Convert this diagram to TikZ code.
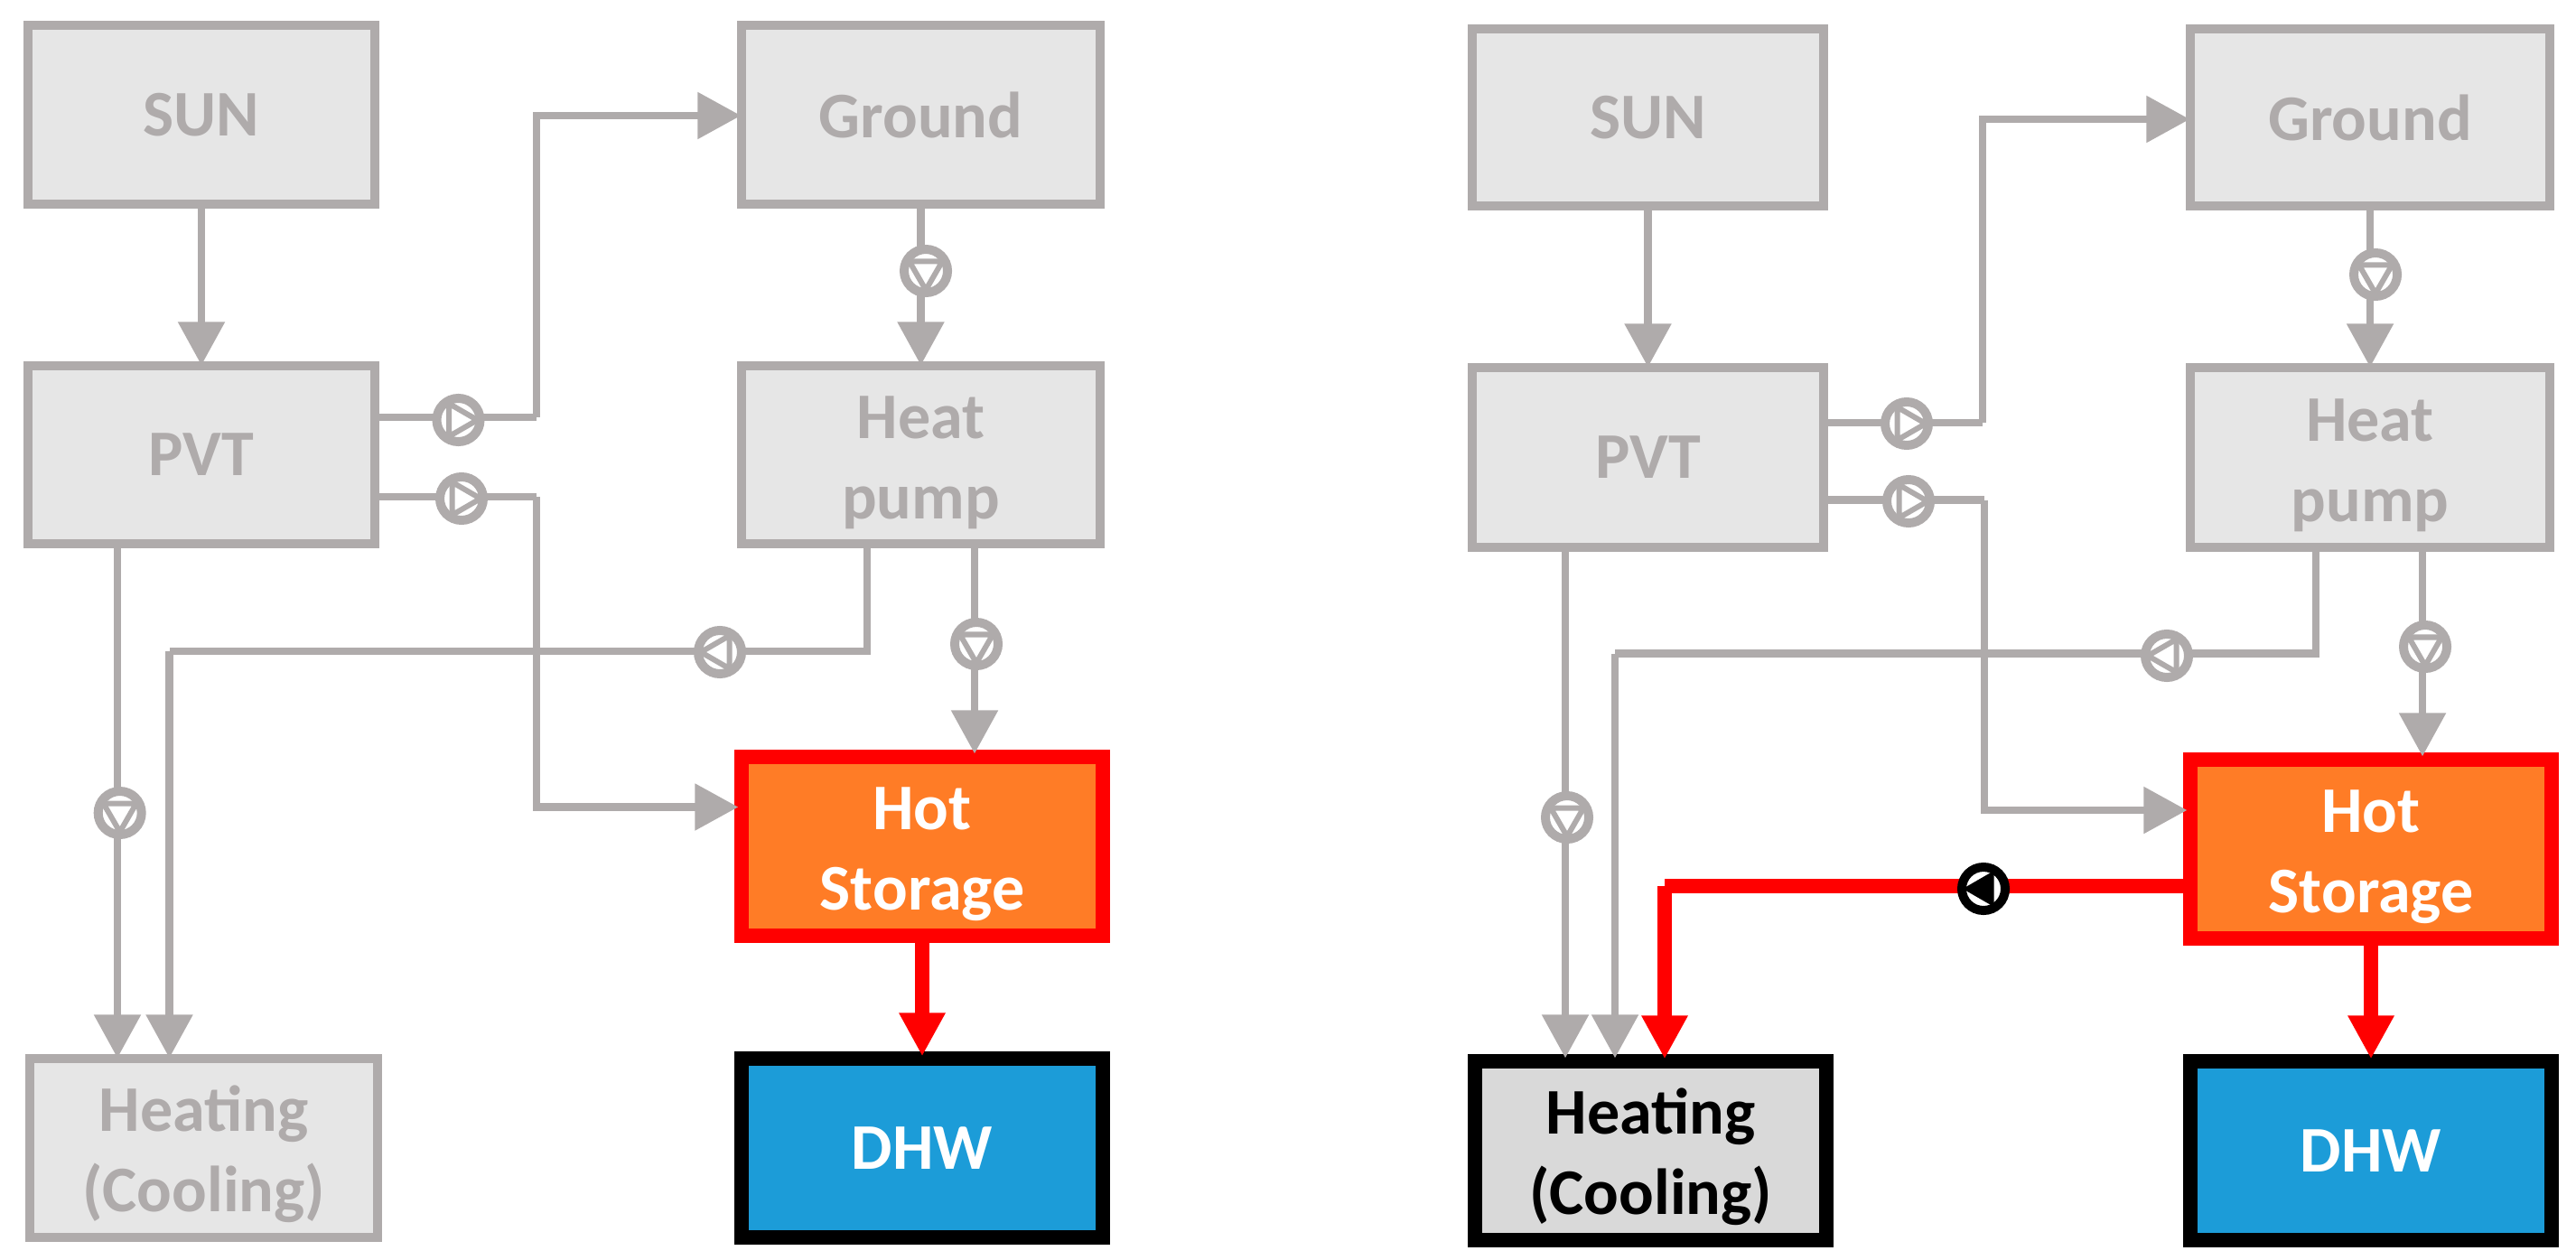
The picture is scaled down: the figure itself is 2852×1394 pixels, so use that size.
\documentclass[tikz,border=0pt]{standalone}
\usepackage{fontspec}
\setmainfont{Carlito}
\usetikzlibrary{arrows.meta}
\definecolor{gr}{HTML}{AFABAB}
\definecolor{lg}{HTML}{E6E6E6}
\definecolor{mg}{HTML}{D9D9D9}
\definecolor{og}{HTML}{FF7C26}
\definecolor{bl}{HTML}{1C9CD8}
\definecolor{rd}{HTML}{FF0000}
\newcommand{\kick}{\rule{0pt}{18.2pt}}
\tikzset{
  boxbase/.style={rectangle,inner sep=0pt,align=center,font=\fontsize{20.5}{25.3}\selectfont\bfseries},
  graybox/.style={boxbase,draw=gr,fill=lg,text=gr,line width=0.10cm},
  hotbox/.style={boxbase,draw=rd,fill=og,text=white,line width=0.16cm},
  dhwbox/.style={boxbase,draw=black,fill=bl,text=white,line width=0.16cm},
  loadbox/.style={boxbase,draw=black,fill=mg,text=black,line width=0.16cm},
  conn/.style={draw=gr,line width=0.085cm,line join=miter},
  connarrow/.style={conn,-{Triangle[length=0.48cm,width=0.50cm]},shorten >=-0.04cm},
  redconn/.style={draw=rd,line width=0.155cm,line join=miter},
  redarrow/.style={redconn,-{Triangle[length=0.48cm,width=0.48cm]},shorten >=-0.05cm},
  pumpg/.style={circle,draw=gr,fill=white,line width=0.10cm,minimum size=0.48cm,inner sep=0pt},
  pumpk/.style={circle,draw=black,fill=white,line width=0.10cm,minimum size=0.48cm,inner sep=0pt},
  triang/.style={draw=gr,fill=white,line width=0.06cm,line join=miter},
  triank/.style={draw=black,fill=black,line width=0.02cm,line join=miter}
}
% style, triangle style, name, position, direction
\newcommand{\pumpsym}[5]{%
  \node[#1] (#3) at (#4) {};
  \path[#2] (#3.center) +(#5:0.21cm) -- +(#5+120:0.21cm) -- +(#5-120:0.21cm) -- cycle;
}
\begin{document}
\begin{tikzpicture}[x=0.01cm,y=-0.01cm]
\useasboundingbox (0,0) rectangle (2852,1394);
% ---- left diagram: boxes
\node[graybox,minimum width=3.83cm,minimum height=1.97cm] (sun) at (223,127) {SUN};
\node[graybox,minimum width=3.96cm,minimum height=1.97cm] (ground) at (1019.5,127) {Ground};
\node[graybox,minimum width=3.83cm,minimum height=1.96cm] (pvt) at (223,503.5) {PVT};
\node[graybox,minimum width=3.96cm,minimum height=1.96cm] (hp) at (1019.5,503.5) {\kick Heat\\pump};
\node[graybox,minimum width=3.84cm,minimum height=1.97cm] (heat) at (225.5,1271) {\kick Heating\\(Cooling)};
\node[hotbox,minimum width=3.99cm,minimum height=1.97cm] (hot) at (1021,937) {\kick Hot\\Storage};
\node[dhwbox,minimum width=3.99cm,minimum height=1.97cm] (dhw) at (1021,1271) {DHW};
% ---- left diagram: bend points
\coordinate (c1) at (594,462); \coordinate (c2) at (594,128);
\coordinate (d1) at (594,550); \coordinate (d2) at (594,893.5);
\coordinate (e1) at (960,721); \coordinate (e2) at (187.5,721);
\coordinate (f1) at (1079,713); \coordinate (g1) at (130,900);
% ---- left diagram: connectors
\draw[connarrow] (sun.south) -- (pvt.north);
\draw[conn] (ground.south) -- (ground.south |- 0,300);
\draw[connarrow] (hp.north |- 0,300) -- (hp.north);
\draw[conn] (pvt.east |- c1) -- (c1);
\draw[connarrow] (c1) -- (c2) -- (ground.west |- c2);
\draw[conn] (pvt.east |- d1) -- (d1);
\draw[connarrow] (d1) -- (d2) -- (hot.west |- d2);
\draw[conn] (hp.south -| e1) -- (e1) -- (e2);
\draw[connarrow] (e2) -- (heat.north -| e2);
\draw[connarrow] (hp.south -| f1) -- (hot.north -| f1);
\draw[connarrow] (pvt.south -| g1) -- (heat.north -| g1);
\draw[redarrow] (hot.south) -- (dhw.north);
% ---- left diagram: pumps
\pumpsym{pumpg}{triang}{pa}{507.5,465}{0}
\pumpsym{pumpg}{triang}{pb}{511,552}{0}
\pumpsym{pumpg}{triang}{pc}{797,722}{180}
\pumpsym{pumpg}{triang}{pd}{1081,713}{270}
\pumpsym{pumpg}{triang}{pe}{132.7,900}{270}
\pumpsym{pumpg}{triang}{pf}{1025,300}{270}
% ---- right diagram: boxes
\node[graybox,minimum width=3.88cm,minimum height=1.96cm] (sunr) at (1824.5,130) {SUN};
\node[graybox,minimum width=3.97cm,minimum height=1.96cm] (groundr) at (2624,130) {Ground};
\node[graybox,minimum width=3.88cm,minimum height=1.98cm] (pvtr) at (1824.5,506.5) {PVT};
\node[graybox,minimum width=3.97cm,minimum height=1.98cm] (hpr) at (2624,506.5) {\kick Heat\\pump};
\node[loadbox,minimum width=3.88cm,minimum height=1.97cm] (heatr) at (1827.5,1274) {\kick Heating\\(Cooling)};
\node[hotbox,minimum width=3.99cm,minimum height=1.97cm] (hotr) at (2625,940) {\kick Hot\\Storage};
\node[dhwbox,minimum width=3.99cm,minimum height=1.97cm] (dhwr) at (2625,1274) {DHW};
% ---- right diagram: bend points
\coordinate (rc1) at (2195,468); \coordinate (rc2) at (2195,132);
\coordinate (rd1) at (2197,553.5); \coordinate (rd2) at (2197,897);
\coordinate (re1) at (2564,723.5); \coordinate (re2) at (1788,723.5);
\coordinate (rf1) at (2682,716); \coordinate (rg1) at (1733,905);
\coordinate (rr1) at (1843,981);
% ---- right diagram: connectors
\draw[connarrow] (sunr.south) -- (pvtr.north);
\draw[conn] (groundr.south) -- (groundr.south |- 0,304);
\draw[connarrow] (hpr.north |- 0,304) -- (hpr.north);
\draw[conn] (pvtr.east |- rc1) -- (rc1);
\draw[connarrow] (rc1) -- (rc2) -- (groundr.west |- rc2);
\draw[conn] (pvtr.east |- rd1) -- (rd1);
\draw[connarrow] (rd1) -- (rd2) -- (hotr.west |- rd2);
\draw[conn] (hpr.south -| re1) -- (re1) -- (re2);
\draw[connarrow] (re2) -- (heatr.north -| re2);
\draw[connarrow] (hpr.south -| rf1) -- (hotr.north -| rf1);
\draw[connarrow] (pvtr.south -| rg1) -- (heatr.north -| rg1);
\draw[redconn] (hotr.west |- rr1) -- (rr1);
\draw[redarrow] (rr1) -- (heatr.north -| rr1);
\draw[redarrow] (hotr.south) -- (dhwr.north);
% ---- right diagram: pumps
\pumpsym{pumpg}{triang}{qa}{2111,469}{0}
\pumpsym{pumpg}{triang}{qb}{2113,555}{0}
\pumpsym{pumpg}{triang}{qc}{2399,726}{180}
\pumpsym{pumpg}{triang}{qd}{2685,716}{270}
\pumpsym{pumpg}{triang}{qe}{1735,905}{270}
\pumpsym{pumpg}{triang}{qf}{2630,304}{270}
\pumpsym{pumpk}{triank}{qk}{2196,984}{180}
\end{tikzpicture}
\end{document}
